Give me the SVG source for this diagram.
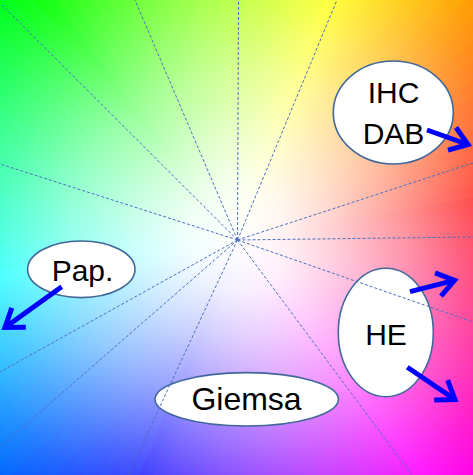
<svg xmlns="http://www.w3.org/2000/svg" width="473" height="475" viewBox="0 0 473 475">
<defs>
<style>
.node ellipse{fill:#fff;stroke:#41679a;stroke-width:1.6}
.node text{font-family:"Liberation Sans","DejaVu Sans",sans-serif;font-size:30px;fill:#000;text-anchor:middle}
.ray{stroke:#4a70c0;stroke-width:1;stroke-dasharray:3 2;fill:none}
.arrow{stroke:#0000ff;stroke-width:5;fill:none;marker-end:url(#head)}
</style>
<path id="w" d="M0,0 L450,-13.5 L450,13.5 Z"/>
<filter id="soft" filterUnits="userSpaceOnUse" x="-300" y="-300" width="1100" height="1100">
<feGaussianBlur stdDeviation="3"/>
</filter>
<radialGradient id="whiteout" gradientUnits="userSpaceOnUse" cx="237.5" cy="240" r="338">
<stop offset="0" stop-color="#fff" stop-opacity="1"/>
<stop offset="0.15" stop-color="#fff" stop-opacity="0.94"/>
<stop offset="0.3" stop-color="#fff" stop-opacity="0.8"/>
<stop offset="0.5" stop-color="#fff" stop-opacity="0.58"/>
<stop offset="0.7" stop-color="#fff" stop-opacity="0.32"/>
<stop offset="0.85" stop-color="#fff" stop-opacity="0.14"/>
<stop offset="1" stop-color="#fff" stop-opacity="0"/>
</radialGradient>
<marker id="head" markerUnits="userSpaceOnUse" viewBox="-24 -16 30 32" markerWidth="30" markerHeight="32" refX="0" refY="0" orient="auto">
<path d="M-17,-12 L0,0 L-17,12" stroke="#0000ff" stroke-width="5" fill="none" stroke-linejoin="miter"/>
</marker>
</defs>
<g id="background">
<g filter="url(#soft)">
<g transform="translate(237.5 240) rotate(-3)">
<use href="#w" transform="rotate(-6)" fill="#ff0000"/>
<use href="#w" transform="rotate(-9)" fill="#ff0d00"/>
<use href="#w" transform="rotate(-12)" fill="#ff1a00"/>
<use href="#w" transform="rotate(-15)" fill="#ff2600"/>
<use href="#w" transform="rotate(-18)" fill="#ff3300"/>
<use href="#w" transform="rotate(-21)" fill="#ff4000"/>
<use href="#w" transform="rotate(-24)" fill="#ff4d00"/>
<use href="#w" transform="rotate(-27)" fill="#ff5900"/>
<use href="#w" transform="rotate(-30)" fill="#ff6600"/>
<use href="#w" transform="rotate(-33)" fill="#ff7300"/>
<use href="#w" transform="rotate(-36)" fill="#ff8000"/>
<use href="#w" transform="rotate(-39)" fill="#ff8c00"/>
<use href="#w" transform="rotate(-42)" fill="#ff9900"/>
<use href="#w" transform="rotate(-45)" fill="#ffa600"/>
<use href="#w" transform="rotate(-48)" fill="#ffb300"/>
<use href="#w" transform="rotate(-51)" fill="#ffbf00"/>
<use href="#w" transform="rotate(-54)" fill="#ffcc00"/>
<use href="#w" transform="rotate(-57)" fill="#ffd900"/>
<use href="#w" transform="rotate(-60)" fill="#ffe600"/>
<use href="#w" transform="rotate(-63)" fill="#fff200"/>
<use href="#w" transform="rotate(-66)" fill="#ffff00"/>
<use href="#w" transform="rotate(-69)" fill="#f2ff00"/>
<use href="#w" transform="rotate(-72)" fill="#e6ff00"/>
<use href="#w" transform="rotate(-75)" fill="#d9ff00"/>
<use href="#w" transform="rotate(-78)" fill="#ccff00"/>
<use href="#w" transform="rotate(-81)" fill="#bfff00"/>
<use href="#w" transform="rotate(-84)" fill="#b3ff00"/>
<use href="#w" transform="rotate(-87)" fill="#a6ff00"/>
<use href="#w" transform="rotate(-90)" fill="#99ff00"/>
<use href="#w" transform="rotate(-93)" fill="#8cff00"/>
<use href="#w" transform="rotate(-96)" fill="#80ff00"/>
<use href="#w" transform="rotate(-99)" fill="#73ff00"/>
<use href="#w" transform="rotate(-102)" fill="#66ff00"/>
<use href="#w" transform="rotate(-105)" fill="#59ff00"/>
<use href="#w" transform="rotate(-108)" fill="#4dff00"/>
<use href="#w" transform="rotate(-111)" fill="#40ff00"/>
<use href="#w" transform="rotate(-114)" fill="#33ff00"/>
<use href="#w" transform="rotate(-117)" fill="#26ff00"/>
<use href="#w" transform="rotate(-120)" fill="#1aff00"/>
<use href="#w" transform="rotate(-123)" fill="#0dff00"/>
<use href="#w" transform="rotate(-126)" fill="#00ff00"/>
<use href="#w" transform="rotate(-129)" fill="#00ff0d"/>
<use href="#w" transform="rotate(-132)" fill="#00ff1a"/>
<use href="#w" transform="rotate(-135)" fill="#00ff26"/>
<use href="#w" transform="rotate(-138)" fill="#00ff33"/>
<use href="#w" transform="rotate(-141)" fill="#00ff40"/>
<use href="#w" transform="rotate(-144)" fill="#00ff4d"/>
<use href="#w" transform="rotate(-147)" fill="#00ff59"/>
<use href="#w" transform="rotate(-150)" fill="#00ff66"/>
<use href="#w" transform="rotate(-153)" fill="#00ff73"/>
<use href="#w" transform="rotate(-156)" fill="#00ff80"/>
<use href="#w" transform="rotate(-159)" fill="#00ff8c"/>
<use href="#w" transform="rotate(-162)" fill="#00ff99"/>
<use href="#w" transform="rotate(-165)" fill="#00ffa6"/>
<use href="#w" transform="rotate(-168)" fill="#00ffb3"/>
<use href="#w" transform="rotate(-171)" fill="#00ffbf"/>
<use href="#w" transform="rotate(-174)" fill="#00ffcc"/>
<use href="#w" transform="rotate(-177)" fill="#00ffd9"/>
<use href="#w" transform="rotate(-180)" fill="#00ffe6"/>
<use href="#w" transform="rotate(-183)" fill="#00fff2"/>
<use href="#w" transform="rotate(-186)" fill="#00ffff"/>
<use href="#w" transform="rotate(-189)" fill="#00f2ff"/>
<use href="#w" transform="rotate(-192)" fill="#00e6ff"/>
<use href="#w" transform="rotate(-195)" fill="#00d9ff"/>
<use href="#w" transform="rotate(-198)" fill="#00ccff"/>
<use href="#w" transform="rotate(-201)" fill="#00bfff"/>
<use href="#w" transform="rotate(-204)" fill="#00b3ff"/>
<use href="#w" transform="rotate(-207)" fill="#00a6ff"/>
<use href="#w" transform="rotate(-210)" fill="#0099ff"/>
<use href="#w" transform="rotate(-213)" fill="#008cff"/>
<use href="#w" transform="rotate(-216)" fill="#0080ff"/>
<use href="#w" transform="rotate(-219)" fill="#0073ff"/>
<use href="#w" transform="rotate(-222)" fill="#0066ff"/>
<use href="#w" transform="rotate(-225)" fill="#0059ff"/>
<use href="#w" transform="rotate(-228)" fill="#004dff"/>
<use href="#w" transform="rotate(-231)" fill="#0040ff"/>
<use href="#w" transform="rotate(-234)" fill="#0033ff"/>
<use href="#w" transform="rotate(-237)" fill="#0026ff"/>
<use href="#w" transform="rotate(-240)" fill="#001aff"/>
<use href="#w" transform="rotate(-243)" fill="#000dff"/>
<use href="#w" transform="rotate(-246)" fill="#0000ff"/>
<use href="#w" transform="rotate(-249)" fill="#0d00ff"/>
<use href="#w" transform="rotate(-252)" fill="#1a00ff"/>
<use href="#w" transform="rotate(-255)" fill="#2600ff"/>
<use href="#w" transform="rotate(-258)" fill="#3300ff"/>
<use href="#w" transform="rotate(-261)" fill="#4000ff"/>
<use href="#w" transform="rotate(-264)" fill="#4d00ff"/>
<use href="#w" transform="rotate(-267)" fill="#5900ff"/>
<use href="#w" transform="rotate(-270)" fill="#6600ff"/>
<use href="#w" transform="rotate(-273)" fill="#7300ff"/>
<use href="#w" transform="rotate(-276)" fill="#8000ff"/>
<use href="#w" transform="rotate(-279)" fill="#8c00ff"/>
<use href="#w" transform="rotate(-282)" fill="#9900ff"/>
<use href="#w" transform="rotate(-285)" fill="#a600ff"/>
<use href="#w" transform="rotate(-288)" fill="#b300ff"/>
<use href="#w" transform="rotate(-291)" fill="#bf00ff"/>
<use href="#w" transform="rotate(-294)" fill="#cc00ff"/>
<use href="#w" transform="rotate(-297)" fill="#d900ff"/>
<use href="#w" transform="rotate(-300)" fill="#e600ff"/>
<use href="#w" transform="rotate(-303)" fill="#f200ff"/>
<use href="#w" transform="rotate(-306)" fill="#ff00ff"/>
<use href="#w" transform="rotate(-309)" fill="#ff00f2"/>
<use href="#w" transform="rotate(-312)" fill="#ff00e6"/>
<use href="#w" transform="rotate(-315)" fill="#ff00d9"/>
<use href="#w" transform="rotate(-318)" fill="#ff00cc"/>
<use href="#w" transform="rotate(-321)" fill="#ff00bf"/>
<use href="#w" transform="rotate(-324)" fill="#ff00b3"/>
<use href="#w" transform="rotate(-327)" fill="#ff00a6"/>
<use href="#w" transform="rotate(-330)" fill="#ff0099"/>
<use href="#w" transform="rotate(-333)" fill="#ff008c"/>
<use href="#w" transform="rotate(-336)" fill="#ff0080"/>
<use href="#w" transform="rotate(-339)" fill="#ff0073"/>
<use href="#w" transform="rotate(-342)" fill="#ff0066"/>
<use href="#w" transform="rotate(-345)" fill="#ff0059"/>
<use href="#w" transform="rotate(-348)" fill="#ff004d"/>
<use href="#w" transform="rotate(-351)" fill="#ff0040"/>
<use href="#w" transform="rotate(-354)" fill="#ff0033"/>
<use href="#w" transform="rotate(-357)" fill="#ff0026"/>
<use href="#w" transform="rotate(-360)" fill="#ff001a"/>
<use href="#w" transform="rotate(-363)" fill="#ff000d"/>
</g>
</g>
<rect x="0" y="0" width="473" height="475" fill="url(#whiteout)"/>
</g>
<g id="node-ihc-dab" class="node">
<ellipse cx="393.3" cy="112.5" rx="60" ry="51.5"/>
<text x="393.5" y="103">IHC</text>
<text x="393.5" y="144">DAB</text>
</g>
<g id="node-pap" class="node">
<ellipse cx="81.3" cy="269.3" rx="53.7" ry="28.3"/>
<text x="82.5" y="281">Pap.</text>
</g>
<g id="node-he" class="node">
<ellipse cx="385.8" cy="332.5" rx="47.5" ry="64.2"/>
<text x="386" y="345">HE</text>
</g>
<g id="node-giemsa" class="node">
<ellipse cx="246.7" cy="399.3" rx="91.7" ry="26.7"/>
<text x="246.5" y="410" style="font-size:32px">Giemsa</text>
</g>
<g id="rays">
<line class="ray" x1="237.5" y1="240" x2="2" y2="5"/>
<line class="ray" x1="237.5" y1="240" x2="135" y2="0"/>
<line class="ray" x1="237.5" y1="240" x2="238.5" y2="0"/>
<line class="ray" x1="237.5" y1="240" x2="337" y2="0"/>
<line class="ray" x1="237.5" y1="240" x2="473" y2="163"/>
<line class="ray" x1="237.5" y1="240" x2="473" y2="237"/>
<line class="ray" x1="237.5" y1="240" x2="473" y2="322"/>
<line class="ray" x1="237.5" y1="240" x2="412" y2="475"/>
<line class="ray" x1="237.5" y1="240" x2="128" y2="475"/>
<line class="ray" x1="237.5" y1="240" x2="0" y2="447"/>
<line class="ray" x1="237.5" y1="240" x2="0" y2="372"/>
<line class="ray" x1="237.5" y1="240" x2="0" y2="164"/>
</g>
<g id="connectors">
<line class="arrow" x1="427" y1="130" x2="468" y2="144.5"/>
<line class="arrow" x1="61.7" y1="286.7" x2="5" y2="327.5"/>
<line class="arrow" x1="410" y1="291.7" x2="454.5" y2="280.3"/>
<line class="arrow" x1="407.3" y1="367.3" x2="455" y2="399.5"/>
</g>
</svg>
